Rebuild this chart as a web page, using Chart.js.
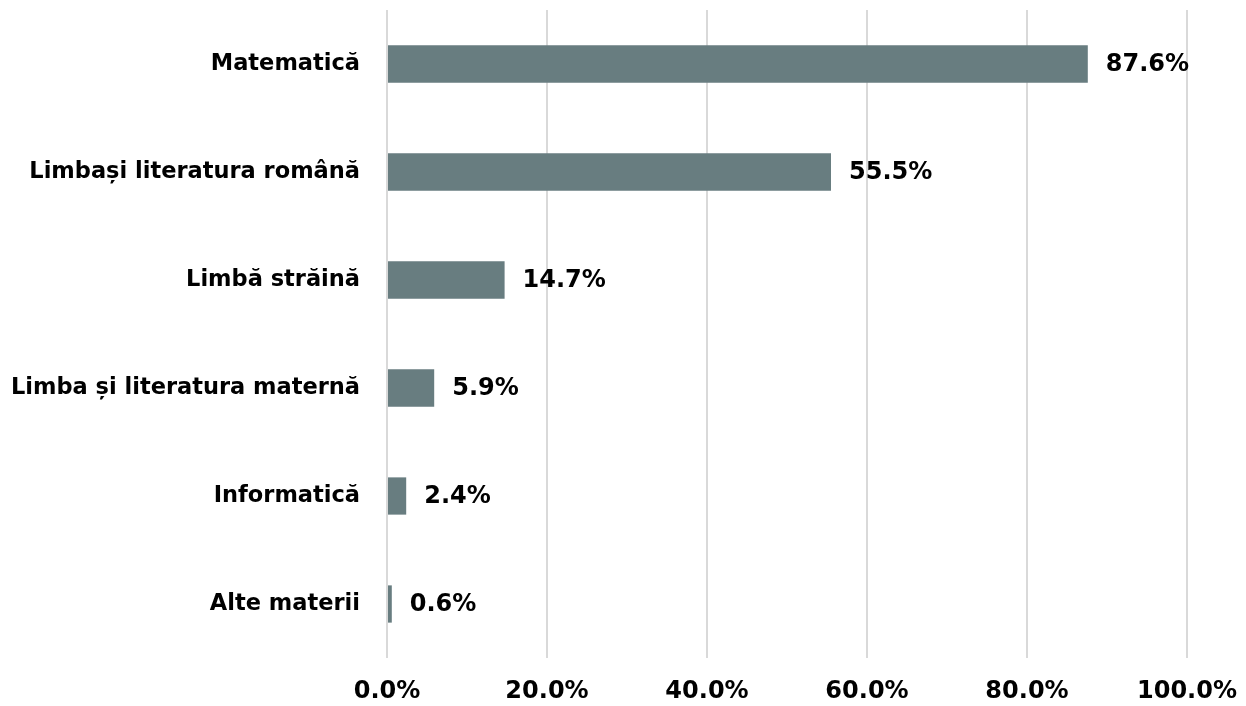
<!DOCTYPE html>
<html>
<head>
<meta charset="utf-8">
<script src="https://cdn.jsdelivr.net/npm/chart.js@4"></script>
<style>
  html, body { margin: 0; padding: 0; background: #fff; }
  #wrap { width: 1246px; height: 706px; }
</style>
</head>
<body>
<div id="wrap"><canvas id="chart" width="1246" height="706"></canvas></div>
<script>
const categories = [
  "Matematică",
  "Limbași literatura română",
  "Limbă străină",
  "Limba și literatura maternă",
  "Informatică",
  "Alte materii"
];
const shares = [87.6, 55.5, 14.7, 5.9, 2.4, 0.6];
const xTicks = [0, 20, 40, 60, 80, 100];

const barColor = "#687d80";
const fontFamily = "'DejaVu Sans', Lato, sans-serif";

// value labels drawn just past the end of each bar
const valueLabels = {
  id: "valueLabels",
  afterDatasetsDraw(chart) {
    const ctx = chart.ctx;
    const meta = chart.getDatasetMeta(0);
    ctx.save();
    ctx.font = "bold 24px " + fontFamily;
    ctx.fillStyle = "#000";
    ctx.textAlign = "left";
    ctx.textBaseline = "middle";
    meta.data.forEach((bar, i) => {
      ctx.fillText(shares[i].toFixed(1) + "%", bar.x + 18, bar.y + 1);
    });
    ctx.restore();
  }
};

const chart = new Chart(document.getElementById("chart"), {
  type: "bar",
  data: {
    labels: categories,
    datasets: [{
      data: shares,
      backgroundColor: barColor,
      categoryPercentage: 1,
      barPercentage: 0.345
    }]
  },
  options: {
    indexAxis: "y",
    responsive: false,
    animation: false,
    layout: { padding: { top: 10, right: 59, left: 0, bottom: 0 } },
    plugins: {
      legend: { display: false },
      tooltip: { enabled: false }
    },
    scales: {
      x: {
        min: 0,
        max: 100,
        afterBuildTicks: (scale) => { scale.ticks = xTicks.map(v => ({ value: v })); },
        afterFit: (scale) => {
          scale.height = 48;
          scale.paddingLeft = 0;
          scale.paddingRight = 0;
        },
        grid: { color: "#d9d9d9", lineWidth: 2, drawTicks: false },
        border: { display: false },
        ticks: {
          padding: 19,
          color: "#000",
          font: { family: fontFamily, size: 24, weight: "bold" },
          callback: (v) => v.toFixed(1) + "%"
        }
      },
      y: {
        afterFit: (scale) => {
          scale.width = 387;
          scale.paddingTop = 0;
          scale.paddingBottom = 0;
        },
        grid: { display: false, drawTicks: false },
        border: { display: false },
        ticks: {
          padding: 27,
          color: "#000",
          font: { family: fontFamily, size: 22.5, weight: "bold" }
        }
      }
    }
  },
  plugins: [valueLabels]
});
</script>
</body>
</html>
